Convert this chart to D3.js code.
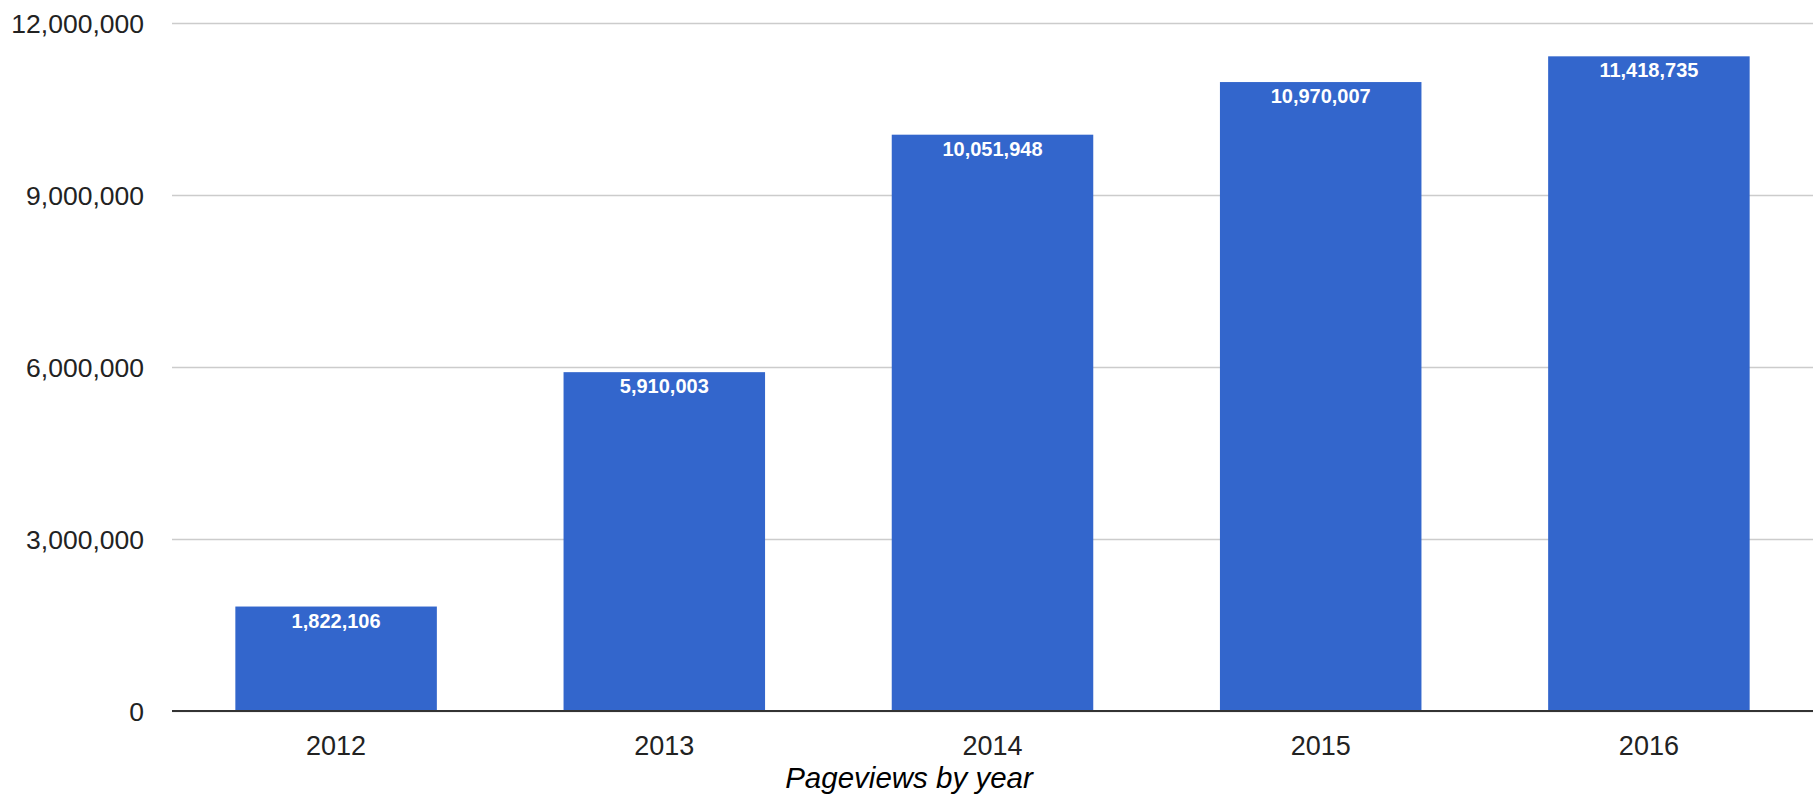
<!DOCTYPE html>
<html><head><meta charset="utf-8">
<script src="https://cdn.jsdelivr.net/npm/d3@7"></script>
<style>html,body{margin:0;padding:0;background:#fff;}svg{display:block;}</style>
</head><body>
<svg id="chart" width="1818" height="801"></svg>
<script>
const years = ["2012", "2013", "2014", "2015", "2016"];
const pageviews = [1822106, 5910003, 10051948, 10970007, 11418735];
const yTicks = [0, 3000000, 6000000, 9000000, 12000000];
const title = "Pageviews by year";

const svg = d3.select("#chart");
const plotLeft = 172, plotRight = 1813, plotTop = 23, plotBottom = 711;
const font = "'Liberation Sans', Arial, Helvetica, sans-serif";
const fmt = d3.format(",");

const x = d3.scaleBand().domain(years).range([plotLeft, plotRight]).paddingInner(0.386).paddingOuter(0.193);
const y = d3.scaleLinear().domain([0, 12000000]).range([plotBottom, plotTop]);

// gridlines + y labels
const yAxis = d3.axisLeft(y).tickValues(yTicks).tickSize(-(plotRight - plotLeft)).tickFormat(fmt).tickPadding(28);
const gy = svg.append("g").attr("transform", `translate(${plotLeft},0)`).call(yAxis);
gy.select(".domain").remove();
gy.selectAll(".tick line").attr("stroke", "#cccccc").attr("stroke-width", 1.5);
gy.selectAll(".tick text").attr("font-family", font).attr("font-size", 26.5).attr("fill", "#222").attr("dy", "0.36em");

// bars
svg.append("g").selectAll("rect").data(years).join("rect")
  .attr("x", d => x(d)).attr("width", x.bandwidth())
  .attr("y", (d, i) => y(pageviews[i])).attr("height", (d, i) => plotBottom - y(pageviews[i]))
  .attr("fill", "#3366cc");

// value labels
svg.append("g").selectAll("text").data(years).join("text")
  .attr("x", d => x(d) + x.bandwidth() / 2)
  .attr("y", (d, i) => y(pageviews[i]) + 21)
  .attr("text-anchor", "middle").attr("font-family", font).attr("font-weight", "bold")
  .attr("font-size", 20).attr("fill", "#fff")
  .text((d, i) => fmt(pageviews[i]));

// baseline
svg.append("line").attr("x1", plotLeft).attr("x2", plotRight).attr("y1", y(0)).attr("y2", y(0))
  .attr("stroke", "#333").attr("stroke-width", 2);

// x labels
const xAxis = d3.axisBottom(x).tickSize(0).tickPadding(25);
const gx = svg.append("g").attr("transform", `translate(0,${plotBottom})`).call(xAxis);
gx.select(".domain").remove();
gx.selectAll(".tick text").attr("font-family", font).attr("font-size", 27).attr("fill", "#222");

// title
svg.append("text").attr("x", 909).attr("y", 788).attr("text-anchor", "middle")
  .attr("font-family", font).attr("font-style", "italic").attr("font-size", 29.5).attr("fill", "#000")
  .text(title);
</script>
</body></html>
